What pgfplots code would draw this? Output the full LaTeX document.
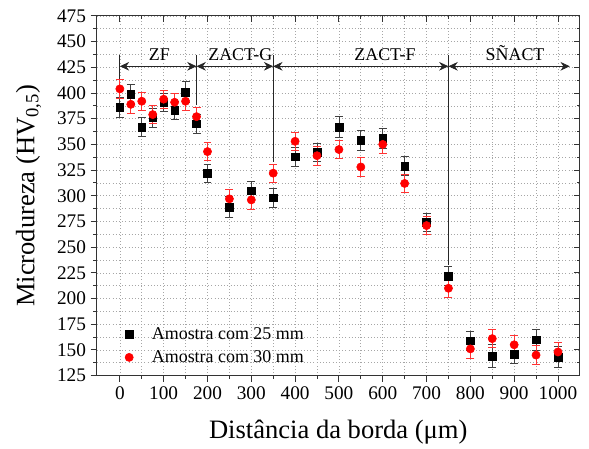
\documentclass[border=0pt]{standalone}
\usepackage{fontspec}
\setmainfont{Liberation Serif}
\usepackage{pgfplots}
\usepackage{pgfplotstable}
\pgfplotsset{compat=1.18}
\usetikzlibrary{arrows.meta}

% amostra com 25 mm
\pgfplotstableread{
x    y    e
0    386  10
25   399  9
50   367  9
75   376  9
100  391  9
125  383  9
150  401  10
175  370  9
200  322  9
250  289  10
300  305  9
350  298  9
400  338  9
450  342  9
500  367  10
550  354  10
600  356  10
650  329  9
700  274  9
750  222  9
800  159  9
850  144  11
900  146  9
950  160  10
1000 143  10
}\datA

% amostra com 30 mm
\pgfplotstableread{
x    y    e
0    404  9
25   389  9
50   392  9
75   379  9
100  394  9
125  391  9
150  392  9
175  377  9
200  343  9
250  297  9
300  296  9
350  322  9
400  353  9
450  339  9
500  345  9
550  328  9
600  350  9
650  312  9
700  271  9
750  210  9
800  151  9
850  161  9
900  155  9
950  145  9
1000 148  9
}\datB

\pgfplotsset{
  common/.style={
    scale only axis,
    width=363.75pt, height=270.75pt,
    xmin=-53, xmax=1050, ymin=125, ymax=475,
    xtick={0,100,...,1000}, minor x tick num=1,
    ytick={125,150,...,475}, minor y tick num=1,
    axis line style={line width=0.8pt, black!80},
    major tick length=4.5pt, minor tick length=2.5pt,
    every tick/.style={black!80, line width=0.7pt},
    ticklabel style={font=\fontsize{14.5}{16}\selectfont},
    /pgf/number format/assume math mode=true,
    /pgf/number format/1000 sep={},
  }
}

\begin{document}
\begin{tikzpicture}
\begin{axis}[
  common,
  tick align=outside,
  xtick pos=left, ytick pos=left,
  grid=both,
  major grid style={dotted, gray!70, line width=0.5pt},
  minor grid style={dotted, gray!70, line width=0.5pt},
  xlabel={Distância da borda (μm)},
  ylabel={Microdureza (HV\textsubscript{0,5})},
  label style={font=\fontsize{20}{22}\selectfont},
  xlabel style={yshift=-9pt},
  ylabel style={yshift=5pt},
  legend style={draw=none, fill=none, at={(rel axis cs:0.05,0.15)}, anchor=north west,
    font=\fontsize{13.5}{15}\selectfont, row sep=3pt, column sep=12pt},
  legend cell align=left,
]
\coordinate (sw) at (rel axis cs:0,0);
\coordinate (ne) at (rel axis cs:1,1);

\addplot[only marks, mark=square*, mark size=2.9pt, black,
  error bars/.cd, y dir=both, y explicit,
  error bar style={black!75, line width=0.6pt},
  error mark options={rotate=90, mark size=3pt, black!75, line width=0.6pt}]
  table[x=x, y=y, y error=e]{\datA};
\addlegendentry{Amostra com 25 mm}

\addplot[only marks, mark=*, mark size=3.1pt, red,
  error bars/.cd, y dir=both, y explicit,
  error bar style={red!80, line width=0.6pt},
  error mark options={rotate=90, mark size=3pt, red!80, line width=0.6pt}]
  table[x=x, y=y, y error=e]{\datB};
\addlegendentry{Amostra com 30 mm}

% zonas
\draw[black!85, line width=0.8pt] (axis cs:0,437) -- (axis cs:0,414);
\draw[black!85, line width=0.8pt] (axis cs:175,437) -- (axis cs:175,388);
\draw[black!85, line width=0.8pt] (axis cs:350,437) -- (axis cs:350,333);
\draw[black!85, line width=0.8pt] (axis cs:750,437) -- (axis cs:750,233);
\begin{scope}[black!85, line width=0.6pt, {Stealth[length=7pt,width=6.5pt]}-{Stealth[length=7pt,width=6.5pt]}]
\draw (axis cs:0,426) -- (axis cs:175,426);
\draw (axis cs:175,426) -- (axis cs:350,426);
\draw (axis cs:350,426) -- (axis cs:750,426);
\draw (axis cs:750,426) -- (axis cs:1027,426);
\end{scope}
\begin{scope}[font=\fontsize{13.5}{15}\selectfont]
\node[anchor=base] at (axis cs:90,432) {ZF};
\node[anchor=base] at (axis cs:275,432) {ZACT-G};
\node[anchor=base] at (axis cs:605,432) {ZACT-F};
\node[anchor=base] at (axis cs:902,432) {SÑACT};
\end{scope}
\end{axis}

% marcas internas em cima e à direita
\begin{axis}[
  common,
  tick align=inside,
  xtick pos=right, ytick pos=right,
  xticklabels={}, yticklabels={},
]
\end{axis}

\path (sw) ++(-72.75pt,-53.25pt) rectangle ([shift={(5.25pt,12pt)}]ne);
\end{tikzpicture}
\end{document}
